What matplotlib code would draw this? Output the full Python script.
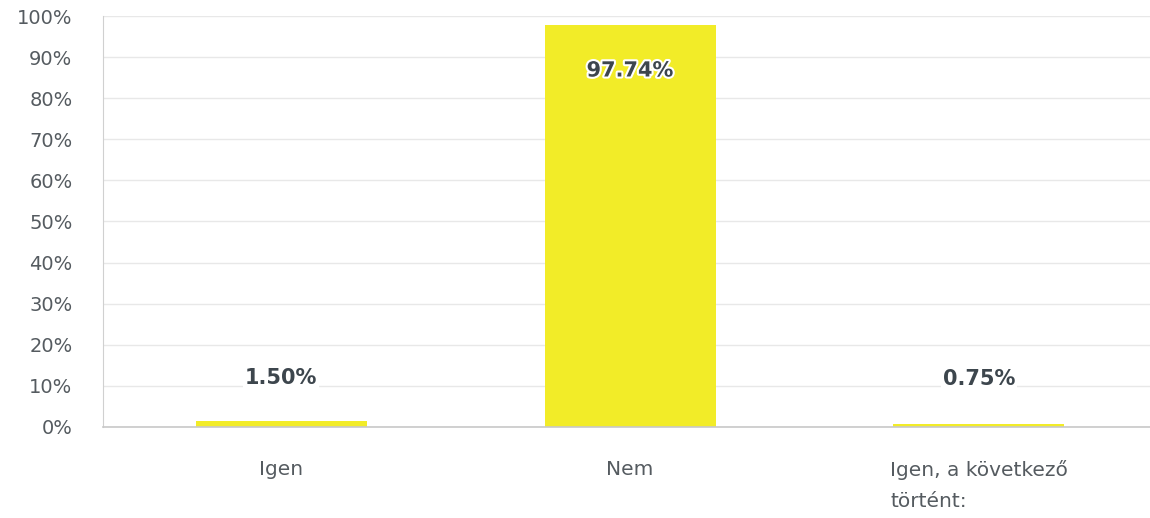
import matplotlib
matplotlib.use("Agg")
import matplotlib.pyplot as plt
import matplotlib.patheffects as pe

categories = ["Igen", "Nem", "Igen, a következő\ntörtént:"]
values = [1.50, 97.74, 0.75]
yticks = [0, 10, 20, 30, 40, 50, 60, 70, 80, 90, 100]
ytick_labels = [f"{v}%" for v in yticks]

fig = plt.figure(figsize=(11.5, 5.18), dpi=100)
ax = fig.add_axes([0.0896, 0.1757, 0.9104, 0.7934])

x = list(range(len(categories)))
ax.bar(x, values, width=0.49, color="#f2ec28", zorder=2)

ax.set_xlim(-0.51, 2.49)
ax.set_ylim(0, 100)
ax.set_yticks(yticks)
ax.set_yticklabels(ytick_labels, fontsize=14, color="#555b60")
ax.set_xticks(x)
ax.set_xticklabels(categories, fontsize=14.5, color="#555b60",
                   multialignment="left", va="top", linespacing=1.75)
ax.tick_params(axis="both", length=0)
ax.tick_params(axis="y", pad=22)
ax.tick_params(axis="x", pad=24)
ax.yaxis.grid(True, color="#e8e8e8", linewidth=1, zorder=0)
ax.set_axisbelow(True)
for s in ["top", "right"]:
    ax.spines[s].set_visible(False)
ax.spines["left"].set_color("#d0d0d0")
ax.spines["bottom"].set_color("#c8c8c8")
ax.spines["bottom"].set_linewidth(1.2)

for xi, v in zip(x, values):
    txt = f"{v:.2f}%"
    if v > 50:
        ax.text(xi, v - 11.0, txt, ha="center", va="center", fontsize=15,
                fontweight="bold", color="#3d464d", zorder=4,
                path_effects=[pe.withStroke(linewidth=3, foreground="white")])
    else:
        ax.text(xi, v + 10.5 if v > 1 else v + 10.9, txt, ha="center", va="center",
                fontsize=15, fontweight="bold", color="#3d464d", zorder=4,
                bbox=dict(boxstyle="square,pad=0.1", fc="white", ec="none"))

fig.savefig("out.png", dpi=100)
